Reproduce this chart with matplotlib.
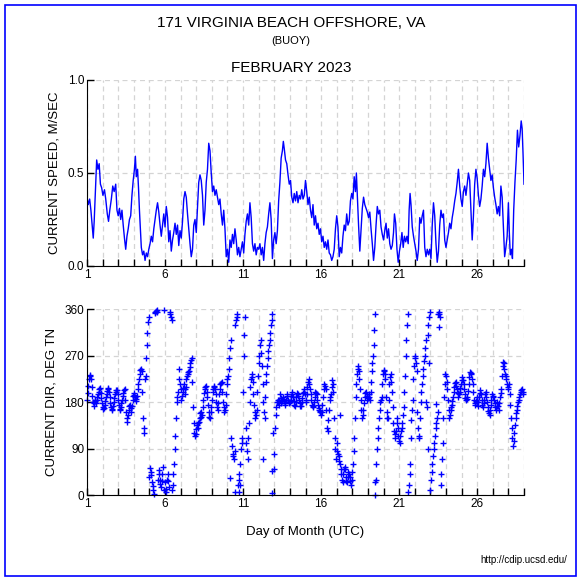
import matplotlib
matplotlib.use("Agg")
import matplotlib.pyplot as plt
import numpy as np
from matplotlib.patches import Rectangle

plt.rcParams["font.family"] = ["Liberation Sans", "DejaVu Sans"]

# ---------------------------------------------------------------------------
# Data (day of month, UTC)
# ---------------------------------------------------------------------------

SPEED_DAY = [
    1.00, 1.08, 1.17, 1.25, 1.33, 1.40, 1.46, 1.54, 1.62, 1.70, 1.78, 1.86, 1.94,
    2.02, 2.12, 2.20, 2.30, 2.38, 2.46, 2.56, 2.65, 2.74, 2.84, 2.92,
    3.00, 3.08, 3.16, 3.24, 3.32, 3.40, 3.48, 3.56, 3.64, 3.72, 3.80, 3.88, 3.96,
    4.04, 4.10, 4.16, 4.24, 4.30, 4.36, 4.42, 4.48, 4.56, 4.64, 4.72, 4.80, 4.88, 4.96,
    5.04, 5.12, 5.20, 5.28, 5.36, 5.44, 5.52, 5.60, 5.68, 5.76, 5.84, 5.92,
    6.00, 6.08, 6.16, 6.24, 6.32, 6.40, 6.48, 6.56, 6.64, 6.72, 6.80, 6.88, 6.96,
    7.04, 7.12, 7.20, 7.28, 7.36, 7.44, 7.52, 7.60, 7.68, 7.76, 7.84, 7.92,
    8.00, 8.08, 8.16, 8.24, 8.32, 8.40, 8.48, 8.56, 8.64, 8.72, 8.80, 8.88, 8.96,
    9.04, 9.12, 9.20, 9.28, 9.36, 9.44, 9.52, 9.60, 9.68, 9.76, 9.84, 9.92,
    10.00, 10.08, 10.16, 10.24, 10.32, 10.40, 10.48, 10.56, 10.64, 10.72, 10.80, 10.88, 10.96,
    11.04, 11.12, 11.20, 11.28, 11.36, 11.44, 11.52, 11.60, 11.68, 11.76, 11.84, 11.92,
    12.00, 12.08, 12.16, 12.24, 12.32, 12.40, 12.48, 12.56, 12.64, 12.72, 12.80, 12.88, 12.96,
    13.04, 13.12, 13.20, 13.28, 13.36, 13.44, 13.52, 13.58, 13.64, 13.72, 13.80, 13.88, 13.96,
    14.04, 14.12, 14.20, 14.28, 14.36, 14.44, 14.52, 14.60, 14.68, 14.76, 14.84, 14.92,
    15.00, 15.08, 15.16, 15.24, 15.32, 15.40, 15.48, 15.56, 15.64, 15.72, 15.80, 15.88, 15.96,
    16.04, 16.12, 16.20, 16.28, 16.36, 16.44, 16.52, 16.60, 16.68, 16.76, 16.84, 16.92,
    17.00, 17.08, 17.16, 17.24, 17.32, 17.40, 17.48, 17.56, 17.64, 17.72, 17.80, 17.88, 17.96,
    18.04, 18.12, 18.20, 18.26, 18.32, 18.40, 18.48, 18.56, 18.64, 18.72, 18.80, 18.88, 18.96,
    19.04, 19.12, 19.20, 19.28, 19.36, 19.44, 19.52, 19.60, 19.68, 19.76, 19.84, 19.92,
    20.00, 20.08, 20.16, 20.24, 20.32, 20.40, 20.48, 20.56, 20.64, 20.70, 20.78, 20.86, 20.94,
    21.02, 21.10, 21.18, 21.26, 21.34, 21.42, 21.50, 21.58, 21.64, 21.70, 21.76, 21.84, 21.92,
    22.00, 22.08, 22.16, 22.24, 22.32, 22.40, 22.48, 22.56, 22.64, 22.72, 22.80, 22.88, 22.96,
    23.04, 23.12, 23.20, 23.28, 23.36, 23.44, 23.52, 23.60, 23.68, 23.76, 23.84, 23.92,
    24.00, 24.08, 24.16, 24.24, 24.32, 24.40, 24.48, 24.56, 24.64, 24.72, 24.80, 24.88, 24.96,
    25.04, 25.12, 25.20, 25.28, 25.36, 25.44, 25.52, 25.60, 25.68, 25.76, 25.84, 25.92,
    26.00, 26.08, 26.16, 26.24, 26.32, 26.40, 26.48, 26.56, 26.64, 26.72, 26.80, 26.88, 26.96,
    27.04, 27.12, 27.20, 27.28, 27.36, 27.44, 27.52, 27.60, 27.68, 27.76, 27.84, 27.92,
    28.00, 28.06, 28.12, 28.20, 28.26, 28.34, 28.42, 28.50, 28.58, 28.66, 28.74, 28.82,
    28.88, 28.94, 29.00,
]

SPEED_MS = [
    0.37, 0.33, 0.36, 0.30, 0.22, 0.15, 0.24, 0.40, 0.57, 0.52, 0.55, 0.44, 0.42,
    0.38, 0.41, 0.36, 0.28, 0.24, 0.30, 0.36, 0.43, 0.40, 0.44, 0.30,
    0.27, 0.31, 0.25, 0.30, 0.22, 0.15, 0.09, 0.16, 0.20, 0.25, 0.27, 0.38, 0.46,
    0.52, 0.59, 0.48, 0.52, 0.42, 0.30, 0.20, 0.10, 0.06, 0.08, 0.03, 0.07, 0.05, 0.09,
    0.12, 0.16, 0.13, 0.20, 0.25, 0.30, 0.34, 0.29, 0.22, 0.16, 0.22, 0.28,
    0.21, 0.32, 0.26, 0.13, 0.19, 0.08, 0.14, 0.18, 0.23, 0.17, 0.22, 0.11, 0.19,
    0.15, 0.24, 0.36, 0.40, 0.37, 0.28, 0.20, 0.12, 0.05, 0.09, 0.22, 0.25,
    0.18, 0.32, 0.45, 0.49, 0.46, 0.38, 0.22, 0.30, 0.45, 0.52, 0.66, 0.62, 0.50,
    0.40, 0.43, 0.38, 0.41, 0.37, 0.33, 0.36, 0.28, 0.22, 0.30, 0.20, 0.05,
    0.09, 0.02, 0.14, 0.10, 0.17, 0.12, 0.20, 0.14, 0.06, 0.10, 0.05, 0.09, 0.13,
    0.07, 0.17, 0.24, 0.28, 0.22, 0.34, 0.26, 0.12, 0.08, 0.12, 0.06, 0.10,
    0.09, 0.12, 0.06, 0.10, 0.03, 0.12, 0.18, 0.21, 0.28, 0.34, 0.25, 0.04, 0.14,
    0.18, 0.12, 0.19, 0.35, 0.45, 0.58, 0.62, 0.67, 0.63, 0.57, 0.55, 0.49, 0.44,
    0.46, 0.37, 0.34, 0.39, 0.35, 0.40, 0.34, 0.38, 0.36, 0.41, 0.36, 0.38,
    0.46, 0.40, 0.33, 0.37, 0.30, 0.26, 0.33, 0.22, 0.27, 0.20, 0.23, 0.17, 0.20,
    0.13, 0.16, 0.10, 0.13, 0.09, 0.14, 0.07, 0.06, 0.03, 0.05, 0.09, 0.20,
    0.27, 0.21, 0.05, 0.10, 0.07, 0.16, 0.22, 0.19, 0.28, 0.22, 0.24, 0.35, 0.39,
    0.36, 0.48, 0.40, 0.50, 0.38, 0.22, 0.08, 0.20, 0.31, 0.37, 0.33, 0.31, 0.29,
    0.26, 0.29, 0.20, 0.12, 0.03, 0.10, 0.22, 0.32, 0.28, 0.30, 0.21, 0.17,
    0.14, 0.19, 0.23, 0.15, 0.20, 0.12, 0.09, 0.11, 0.18, 0.28, 0.23, 0.09, 0.02,
    0.08, 0.12, 0.18, 0.10, 0.16, 0.13, 0.16, 0.12, 0.30, 0.39, 0.33, 0.21, 0.16,
    0.12, 0.08, 0.03, 0.09, 0.26, 0.23, 0.27, 0.30, 0.10, 0.05, 0.09, 0.06, 0.09,
    0.04, 0.22, 0.34, 0.27, 0.12, 0.02, 0.08, 0.22, 0.30, 0.26, 0.28, 0.14,
    0.10, 0.14, 0.18, 0.23, 0.20, 0.26, 0.30, 0.35, 0.39, 0.45, 0.52, 0.43, 0.36,
    0.32, 0.40, 0.43, 0.38, 0.44, 0.50, 0.46, 0.30, 0.14, 0.27, 0.44, 0.52,
    0.47, 0.38, 0.32, 0.36, 0.43, 0.52, 0.48, 0.55, 0.66, 0.58, 0.52, 0.46, 0.49,
    0.42, 0.37, 0.33, 0.28, 0.32, 0.27, 0.43, 0.37, 0.21, 0.05, 0.10, 0.16,
    0.34, 0.18, 0.06, 0.09, 0.04, 0.30, 0.45, 0.57, 0.73, 0.64, 0.70, 0.78,
    0.74, 0.60, 0.44,
]

# Current direction, hourly readings, days 1..28
DIR_DAYS = list(range(1, 29))
DIR_DEG = [
    [185, 198, 212, 225, 232, 230, 225, 210, 192, 180, 172, 178, 185, 182, 178, 184, 190, 196, 200, 205, 207, 198, 188, 178],  # 1
    [170, 167, 168, 174, 182, 190, 195, 202, 208, 205, 200, 190, 178, 170, 165, 167, 172, 180, 188, 195, 200, 204, 203, 195],  # 2
    [185, 175, 166, 165, 170, 178, 185, 192, 198, 203, 205, 185, 160, 150, 142, 155, 165, 172, 175, 168, 160, 172, 185, 192],  # 3
    [197, 194, 190, 186, 182, 192, 205, 215, 225, 235, 243, 245, 240, 200, 150, 130, 120, 225, 230, 265, 290, 315, 335, 345],  # 4
    [35, 52, 45, 38, 25, 18, 10, 2, 352, 355, 357, 359, 355, 30, 48, 40, 30, 22, 15, 28, 40, 55, 358, 10],                   # 5
    [25, 12, 5, 30, 40, 28, 15, 355, 350, 345, 340, 10, 20, 40, 60, 90, 115, 150, 180, 190, 200, 225, 245, 215],              # 6
    [205, 185, 192, 200, 208, 215, 205, 195, 210, 225, 230, 235, 238, 240, 248, 255, 262, 265, 220, 170, 140, 120, 115, 118],  # 7
    [128, 135, 140, 130, 142, 150, 158, 160, 152, 155, 170, 185, 198, 205, 210, 212, 200, 190, 175, 160, 152, 150, 160, 170],  # 8
    [185, 200, 205, 210, 212, 205, 195, 180, 170, 165, 178, 195, 205, 215, 218, 220, 200, 180, 170, 160, 165, 175, 195, 215],  # 9
    [225, 230, 245, 265, 285, 300, 110, 95, 80, 75, 70, 85, 330, 340, 345, 350, 20, 40, 30, 20, 60, 90, 100, 110],            # 10
    [200, 270, 310, 345, 130, 100, 85, 70, 110, 140, 180, 210, 225, 235, 228, 220, 195, 175, 160, 150, 155, 165, 200, 230],   # 11
    [255, 270, 290, 300, 275, 250, 215, 180, 160, 150, 190, 220, 235, 250, 265, 280, 290, 300, 315, 330, 340, 350, 120, 80],  # 12
    [50, 130, 155, 170, 180, 185, 180, 175, 185, 195, 188, 178, 182, 190, 186, 182, 178, 175, 185, 195, 192, 185, 180, 178],  # 13
    [180, 185, 192, 200, 195, 190, 182, 175, 172, 180, 190, 198, 196, 192, 185, 178, 172, 172, 180, 188, 198, 205, 200, 195],  # 14
    [185, 180, 195, 210, 220, 225, 215, 205, 195, 185, 175, 170, 172, 180, 190, 200, 198, 195, 185, 175, 168, 165, 162, 160],  # 15
    [155, 160, 175, 190, 205, 215, 212, 205, 165, 130, 125, 145, 165, 185, 190, 195, 210, 223, 215, 200, 150, 110, 90, 70],   # 16
    [100, 85, 80, 75, 65, 60, 50, 40, 30, 25, 40, 50, 55, 50, 35, 28, 25, 35, 45, 40, 35, 28, 20, 30],                       # 17
    [45, 60, 85, 110, 150, 190, 215, 235, 245, 250, 240, 225, 205, 185, 165, 150, 155, 165, 178, 190, 198, 200, 192, 185],    # 18
    [188, 195, 190, 185, 200, 220, 240, 255, 270, 290, 320, 350, 30, 60, 90, 110, 130, 150, 165, 180, 185, 190, 215, 235],    # 19
    [240, 242, 235, 225, 190, 160, 150, 150, 185, 215, 228, 235, 220, 200, 170, 140, 125, 110, 118, 125, 140, 150, 130, 115],  # 20
    [105, 100, 115, 125, 130, 140, 155, 170, 200, 230, 270, 300, 330, 350, 5, 20, 40, 60, 110, 145, 165, 185, 225, 250],      # 21
    [265, 270, 255, 240, 160, 130, 115, 110, 150, 180, 200, 215, 230, 245, 260, 270, 285, 300, 180, 170, 310, 330, 345, 355],  # 22
    [10, 30, 45, 60, 75, 90, 100, 115, 130, 140, 150, 160, 350, 355, 350, 345, 20, 40, 70, 100, 150, 190, 215, 235],          # 23
    [230, 220, 205, 185, 165, 150, 155, 165, 170, 175, 182, 190, 200, 210, 218, 220, 212, 205, 198, 190, 195, 200, 208, 215],  # 24
    [222, 228, 222, 215, 205, 195, 188, 185, 186, 190, 202, 215, 228, 238, 236, 235, 225, 215, 200, 185, 178, 175, 182, 190],  # 25
    [180, 172, 180, 190, 198, 203, 195, 185, 175, 170, 178, 185, 195, 200, 190, 180, 170, 162, 158, 155, 165, 175, 185, 195],  # 26
    [192, 190, 185, 178, 170, 165, 172, 180, 172, 165, 178, 190, 198, 205, 230, 250, 258, 255, 245, 235, 230, 225, 215, 205],  # 27
    [210, 215, 195, 175, 150, 130, 110, 95, 105, 120, 135, 150, 158, 165, 172, 180, 185, 190, 195, 200, 203, 205, 200, 195],  # 28
]

# isolated readings away from the main track
STRAY_DAY = [10.15, 10.50, 10.73, 12.29, 12.86, 12.86, 17.20, 19.44, 19.44,
             22.86, 22.92, 23.39, 23.54]
STRAY_DEG = [32, 6, 6, 69, 47, 4, 155, 0, 26,
             90, 256, 176, 325]

BLUE = "#0000ff"
GRID = "#d4d4d4"


def style_axis(ax):
    ax.set_xlim(1, 29)
    ax.set_xticks(np.arange(1, 30))
    ax.set_xticklabels([str(d) if (d - 1) % 5 == 0 and d < 29 else "" for d in range(1, 30)])
    ax.grid(True, color=GRID, linestyle=(0, (4, 3)), linewidth=0.9)
    ax.set_axisbelow(True)
    ax.spines["top"].set_visible(False)
    ax.spines["right"].set_visible(False)
    ax.tick_params(direction="in", length=5, width=1, labelsize=8.5, pad=2)


fig = plt.figure(figsize=(5.82, 5.81), dpi=100)

# border round the whole figure
fig.patches.append(Rectangle((5 / 582, 1 - 576 / 581), 571 / 582, 571 / 581,
                             transform=fig.transFigure, fill=False,
                             edgecolor=BLUE, linewidth=1.2))

fig.text(0.5, 1 - 23 / 581, "171 VIRGINIA BEACH OFFSHORE, VA", ha="center", va="center", fontsize=11)
fig.text(0.5, 1 - 41 / 581, "(BUOY)", ha="center", va="center", fontsize=8)
fig.text(0.5, 1 - 68 / 581, "FEBRUARY 2023", ha="center", va="center", fontsize=11)

# speed panel
ax1 = fig.add_axes([87 / 582, 1 - 266 / 581, 437 / 582, 186 / 581])
ax1.plot(SPEED_DAY, SPEED_MS, color=BLUE, linewidth=1.0)
ax1.set_ylim(0, 1.0)
ax1.set_yticks([0.0, 0.5, 1.0])
ax1.set_yticklabels(["0.0", "0.5", "1.0"])
style_axis(ax1)
ax1.set_ylabel("CURRENT SPEED, M/SEC", fontsize=9.5, labelpad=5)

# direction panel
dir_t = np.concatenate([d + np.arange(24) / 24 for d in DIR_DAYS])
dir_v = np.concatenate(DIR_DEG)
ax2 = fig.add_axes([87 / 582, 1 - 495 / 581, 437 / 582, 185.7 / 581])
ax2.plot(dir_t, dir_v, linestyle="none", marker="+", color=BLUE,
         markersize=4, markeredgewidth=1.0, clip_on=False)
ax2.plot(STRAY_DAY, STRAY_DEG, linestyle="none", marker="+", color=BLUE,
         markersize=4, markeredgewidth=1.0, clip_on=False)
ax2.set_ylim(0, 360)
ax2.set_yticks([0, 90, 180, 270, 360])
style_axis(ax2)
ax2.set_ylabel("CURRENT DIR, DEG TN", fontsize=9.5, labelpad=5)
ax2.set_xlabel("Day of Month (UTC)", fontsize=9.5, labelpad=12)

fig.text(567 / 582, 1 - 560 / 581, "http://cdip.ucsd.edu/", ha="right", va="center", fontsize=7)

fig.savefig("out.png", dpi=100)
